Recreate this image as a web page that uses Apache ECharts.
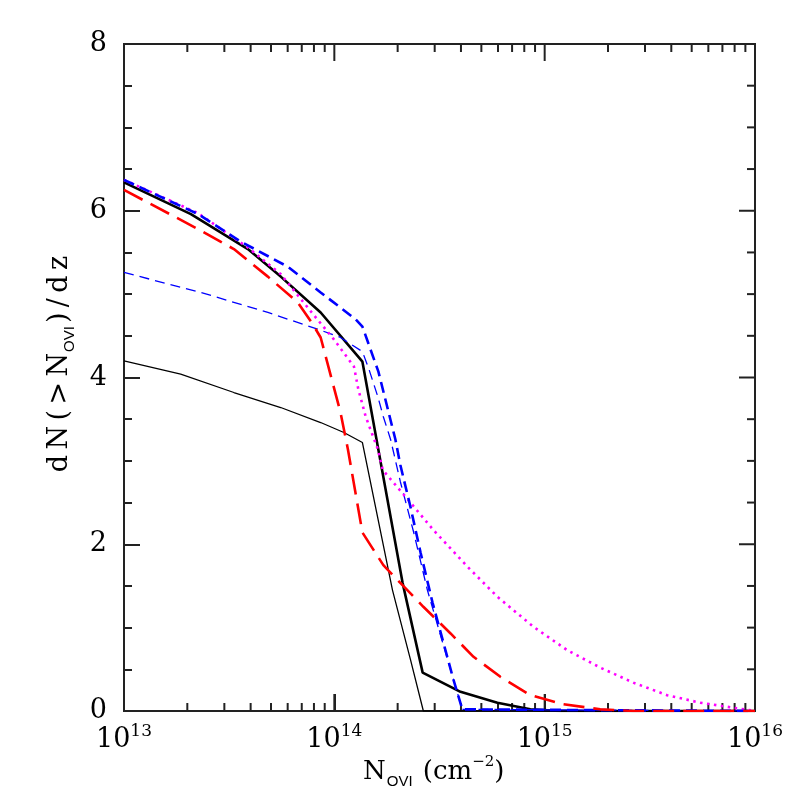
<!DOCTYPE html>
<html>
<head>
<meta charset="utf-8">
<script src="https://cdn.jsdelivr.net/npm/echarts@6/dist/echarts.min.js"></script>
<style>
  html, body { margin: 0; padding: 0; background: #fff; }
  #chart { width: 797px; height: 797px; }
</style>
</head>
<body>
<div id="chart"></div>
<script>
// [N_OVI (cm^-2), dN(>N)/dz]
const blackThick = [
  [1.00e13, 6.34], [2.08e13, 5.96], [3.88e13, 5.54], [5.56e13, 5.21], [8.61e13, 4.78],
  [1.36e14, 4.19], [1.61e14, 3.17], [2.11e14, 1.54], [2.63e14, 0.46], [3.98e14, 0.23],
  [5.96e14, 0.10], [8.55e14, 0.02], [1.19e15, 0.0], [1.0e16, 0.0]
];
const blackThin = [
  [1.00e13, 4.20], [1.86e13, 4.04], [3.33e13, 3.82], [5.56e13, 3.64], [8.61e13, 3.46],
  [1.11e14, 3.34], [1.36e14, 3.22], [1.89e14, 1.45], [2.30e14, 0.62], [2.65e14, 0.0],
  [1.0e16, 0.0]
];
const redDash = [
  [1.00e13, 6.25], [2.25e13, 5.78], [3.33e13, 5.54], [4.83e13, 5.21], [6.70e13, 4.90],
  [7.89e13, 4.64], [8.61e13, 4.48], [1.07e14, 3.58], [1.16e14, 3.14], [1.36e14, 2.14],
  [1.71e14, 1.75], [2.00e14, 1.57], [2.65e14, 1.25], [3.57e14, 0.93], [4.59e14, 0.65],
  [6.16e14, 0.41], [8.55e14, 0.19], [1.23e15, 0.08], [1.84e15, 0.02], [2.64e15, 0.0],
  [1.0e16, 0.0]
];
const blueThick = [
  [1.00e13, 6.37], [2.25e13, 5.96], [3.59e13, 5.63], [6.00e13, 5.33], [8.61e13, 5.02],
  [1.26e14, 4.70], [1.36e14, 4.61], [1.62e14, 4.07], [1.95e14, 3.26], [2.06e14, 2.95],
  [2.30e14, 2.45], [2.57e14, 1.90], [2.93e14, 1.30], [3.69e14, 0.37], [4.06e14, 0.02],
  [1.0e16, 0.0]
];
const blueThin = [
  [1.00e13, 5.26], [2.32e13, 5.02], [4.83e13, 4.78], [8.33e13, 4.58], [1.07e14, 4.48],
  [1.36e14, 4.31], [1.46e14, 4.10], [1.61e14, 3.77], [1.71e14, 3.53], [1.85e14, 3.26],
  [2.06e14, 2.75], [2.38e14, 2.15], [2.77e14, 1.45], [3.69e14, 0.37], [4.06e14, 0.02],
  [1.0e16, 0.0]
];
const magentaDot = [
  [1.00e13, 6.37], [2.25e13, 5.97], [3.88e13, 5.56], [5.56e13, 5.24], [7.98e13, 4.75],
  [9.93e13, 4.46], [1.24e14, 4.13], [1.30e14, 3.86], [1.41e14, 3.53], [1.61e14, 3.14],
  [1.70e14, 2.89], [1.91e14, 2.74], [2.30e14, 2.50], [2.96e14, 2.17], [4.30e14, 1.73],
  [5.96e14, 1.37], [8.84e14, 1.01], [1.28e15, 0.73], [1.84e15, 0.52], [2.64e15, 0.34],
  [3.82e15, 0.19], [5.48e15, 0.10], [7.86e15, 0.04], [1.0e16, 0.0]
];

// x axis runs in log10(N); decades 13..16
const xMin = 13, xMax = 16, yMin = 0, yMax = 8;
const majorTickN = [1e14, 1e15];
const minorTickN = [];
[1e13, 1e14, 1e15].forEach(d => { for (let k = 2; k <= 9; k++) minorTickN.push(k * d); });
const majorTickY = [2, 4, 6];
const minorTickY = [0.5, 1, 1.5, 2.5, 3, 3.5, 4.5, 5, 5.5, 6.5, 7, 7.5];

const serif = '"DejaVu Serif", "Liberation Serif", serif';
const sans = '"Liberation Sans", "DejaVu Sans", sans-serif';
const frame = '#222';
const sp = '\u2009';

const toLog = arr => arr.map(p => [Math.log10(p[0]), p[1]]);

// tick items: [x, y, length in px, side]
const xTickItems = [];
majorTickN.forEach(n => xTickItems.push([Math.log10(n), 0, 17]));
minorTickN.forEach(n => xTickItems.push([Math.log10(n), 0, 8]));
const yTickItems = [];
majorTickY.forEach(v => yTickItems.push([xMax, v, 16]));
minorTickY.forEach(v => yTickItems.push([xMax, v, 8]));

const chart = echarts.init(document.getElementById('chart'));

function lineSeries(data, color, width, dash) {
  return {
    type: 'line', data: toLog(data), showSymbol: false, symbol: 'none',
    lineStyle: { color: color, width: width, type: dash }
  };
}

chart.setOption({
  animation: false,
  grid: { left: 124, right: 42, top: 44, bottom: 86, show: true, borderColor: frame, borderWidth: 2, backgroundColor: 'transparent' },
  xAxis: {
    type: 'value', min: xMin, max: xMax, interval: 1,
    axisLine: { show: true, onZero: false, lineStyle: { color: frame, width: 2 } },
    axisTick: { show: true, inside: true, length: 17, lineStyle: { color: frame, width: 2 } },
    splitLine: { show: true, lineStyle: { color: 'rgba(0,0,0,0)' } },
    axisLabel: {
      show: true, margin: 12,
      formatter: v => '{b|10}{s|' + Math.round(v) + '}',
      rich: {
        b: { fontFamily: serif, fontSize: 27, color: '#000', lineHeight: 30, verticalAlign: 'bottom' },
        s: { fontFamily: serif, fontSize: 17, color: '#000', lineHeight: 17, verticalAlign: 'top' }
      }
    }
  },
  yAxis: {
    type: 'value', min: yMin, max: yMax, interval: 2,
    axisLine: { show: true, onZero: false, lineStyle: { color: frame, width: 2 } },
    axisTick: { show: true, inside: true, length: 16, lineStyle: { color: frame, width: 2 } },
    minorTick: { show: true, splitNumber: 4, length: 8, lineStyle: { color: frame, width: 2 } },
    splitLine: { show: true, lineStyle: { color: 'rgba(0,0,0,0)' } },
    axisLabel: { show: true, margin: 17, fontFamily: serif, fontSize: 27, color: '#000' }
  },
  series: [
    {
      type: 'custom', data: xTickItems,
      renderItem: (params, api) => {
        const lx = api.value(0), len = api.value(2);
        const b = api.coord([lx, yMin]);
        const t = api.coord([lx, yMax]);
        return {
          type: 'group', children: [
            { type: 'line', shape: { x1: b[0], y1: b[1], x2: b[0], y2: b[1] - len }, style: { stroke: frame, lineWidth: 2 } },
            { type: 'line', shape: { x1: t[0], y1: t[1], x2: t[0], y2: t[1] + len }, style: { stroke: frame, lineWidth: 2 } }
          ]
        };
      }
    },
    {
      type: 'custom', data: yTickItems,
      renderItem: (params, api) => {
        const p = api.coord([api.value(0), api.value(1)]);
        const len = api.value(2);
        return { type: 'line', shape: { x1: p[0], y1: p[1], x2: p[0] - len, y2: p[1] }, style: { stroke: frame, lineWidth: 2 } };
      }
    },
    lineSeries(blackThin, '#000', 1.3, 'solid'),
    lineSeries(blackThick, '#000', 2.6, 'solid'),
    lineSeries(blueThin, '#0000ff', 1.3, [10, 6]),
    lineSeries(magentaDot, '#ff00ff', 2.6, [2.5, 4.5]),
    lineSeries(blueThick, '#0000ff', 2.6, [11, 6]),
    lineSeries(redDash, '#ff0000', 2.6, [21, 9])
  ],
  graphic: [
    {
      type: 'text', left: 363, top: 755,
      style: {
        text: '{n|N}{o|OVI}{n| (cm}{p|−2}{n|)}',
        rich: {
          n: { fontFamily: serif, fontSize: 26, fill: '#000', lineHeight: 34, verticalAlign: 'middle' },
          o: { fontFamily: sans, fontSize: 15, fill: '#000', lineHeight: 15, verticalAlign: 'bottom', padding: [0, 2, 0, 1] },
          p: { fontFamily: serif, fontSize: 15, fill: '#000', lineHeight: 15, verticalAlign: 'top' }
        }
      }
    },
    {
      type: 'text', x: 60, y: 364, rotation: Math.PI / 2,
      style: {
        text: '{n|d' + sp + 'N' + sp + '(' + sp + '>' + sp + 'N}{o|OVI}{n|)' + sp + '/' + sp + 'd' + sp + 'z}',
        align: 'center', verticalAlign: 'middle',
        rich: {
          n: { fontFamily: serif, fontSize: 27, fill: '#000', lineHeight: 34, verticalAlign: 'middle' },
          o: { fontFamily: sans, fontSize: 15, fill: '#000', lineHeight: 15, verticalAlign: 'bottom', padding: [0, 3, 0, 1] }
        }
      }
    }
  ]
});
</script>
</body>
</html>
